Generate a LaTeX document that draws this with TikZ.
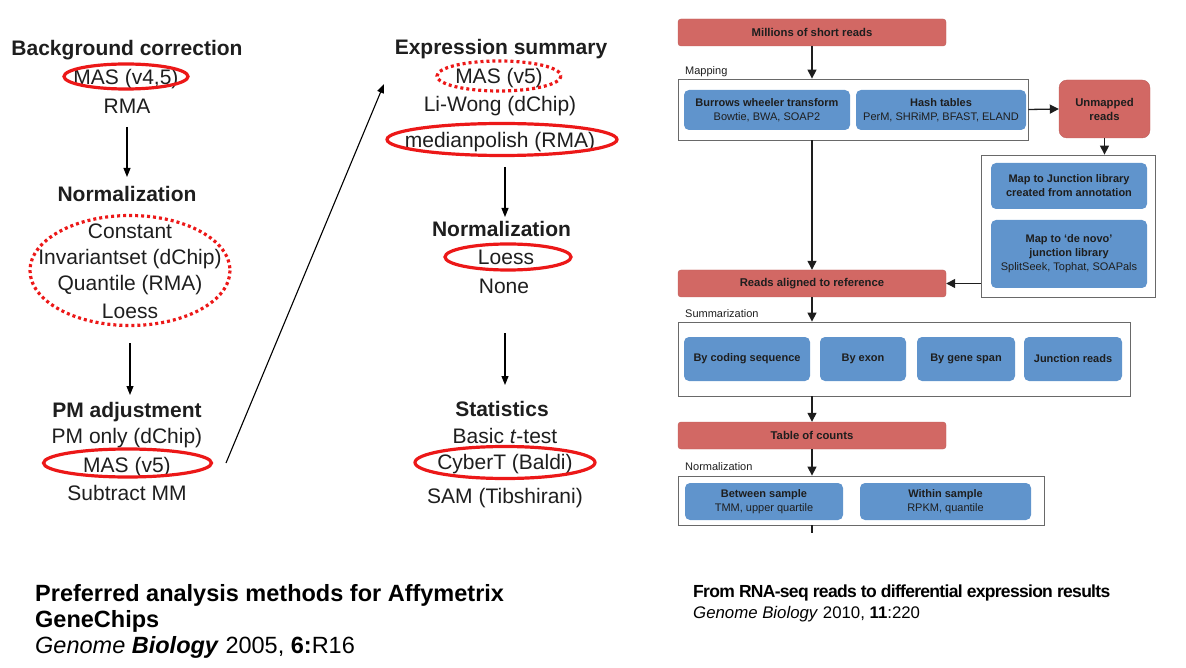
\documentclass[tikz,border=0pt]{standalone}
\usepackage{fontspec}
\setmainfont{Liberation Sans}
\usetikzlibrary{arrows.meta,positioning}
\definecolor{ovalred}{RGB}{236,24,24}
\definecolor{stepred}{RGB}{210,104,100}
\definecolor{toolblue}{RGB}{96,148,204}
\definecolor{framegray}{RGB}{105,105,105}
\definecolor{ink}{RGB}{30,30,30}

\begin{document}
\begin{tikzpicture}[x=1pt,y=-1pt,
  head/.style={anchor=base,inner sep=0pt,text=ink,font=\fontsize{21}{25}\selectfont\bfseries},
  item/.style={anchor=base,inner sep=0pt,text=ink,font=\fontsize{21}{25}\selectfont},
  pick/.style={draw=ovalred,line width=3.2pt},
  maybe/.style={draw=ovalred,line width=3.2pt,dash pattern=on 3pt off 3pt},
  arr/.style={line width=1.1pt,-{Triangle[length=9pt,width=7pt]}},
  redstep/.style={draw=stepred!90!black,fill=stepred,rounded corners=3pt,inner sep=0pt,
    text=ink,font=\fontsize{11.3}{14}\selectfont\bfseries},
  toolbox/.style={fill=toolblue,rounded corners=5pt,inner sep=0pt,align=center,
    text=ink,font=\fontsize{11}{14}\selectfont},
  stage/.style={draw=framegray,line width=0.8pt,inner sep=0pt},
  tag/.style={anchor=base west,inner sep=0pt,text=ink,font=\fontsize{11}{13}\selectfont},
  flow/.style={line width=1.3pt,draw=ink,-{Triangle[length=9pt,width=9pt]}},
  cite/.style={anchor=base west,inner sep=0pt,text=black}]
  \useasboundingbox (0,0) rectangle (1186,668);

  % left column: Affymetrix choices
  \node[head] (bg) at (127,55.5) {Background correction};
  \node[item] (bgmas) at (126,84.5) {MAS (v4,5)};
  \node[item] (bgrma) at (127,113.5) {RMA};
  \node[head] (norm) at (127,201.5) {Normalization};
  \node[item] (nconst) at (130,238.5) {Constant};
  \node[item] (ninv) at (130,264.5) {Invariantset (dChip)};
  \node[item] (nquant) at (130,290.5) {Quantile (RMA)};
  \node[item] (nloess) at (130,318.5) {Loess};
  \node[head] (pm) at (127,417.5) {PM adjustment};
  \node[item] (pmonly) at (127,443.5) {PM only (dChip)};
  \node[item] (pmmas) at (127,472.5) {MAS (v5)};
  \node[item] (pmsub) at (127,500.5) {Subtract MM};

  \draw[pick] (126,76.5) ellipse [x radius=62, y radius=12.5];
  \draw[maybe] (130,270.5) ellipse [x radius=100, y radius=55];
  \draw[pick] (127.5,463) ellipse [x radius=84, y radius=14];

  \coordinate (a1) at (127,127);
  \coordinate (b1) at (127,177);
  \coordinate (a2) at (130,343);
  \coordinate (b2) at (130,395);
  \coordinate (a3) at (226,463);
  \coordinate (b3) at (384,84);
  \draw[arr] (a1) -- (b1);
  \draw[arr] (a2) -- (b2);
  \draw[arr] (a3) -- (b3);

  % middle column
  \node[head] (expr) at (501,54.5) {Expression summary};
  \node[item] (exmas) at (499,83.5) {MAS (v5)};
  \node[item] (exli) at (500,111.5) {Li-Wong (dChip)};
  \node[item] (exmp) at (500,147.5) {medianpolish (RMA)};
  \node[head] (norm2) at (501.5,236.5) {Normalization};
  \node[item] (n2loess) at (506,264.5) {Loess};
  \node[item] (n2none) at (504,293.5) {None};
  \node[head] (stat) at (502,416.5) {Statistics};
  \node[item] (sbasic) at (505,443.5) {Basic \textit{t}-test};
  \node[item] (scyber) at (505,469.5) {CyberT (Baldi)};
  \node[item] (ssam) at (505,503.5) {SAM (Tibshirani)};

  \draw[maybe] (499,76) ellipse [x radius=62, y radius=15];
  \draw[pick] (502,139.5) ellipse [x radius=115, y radius=16];
  \draw[pick] (508,257) ellipse [x radius=63, y radius=13];
  \draw[pick] (505,462.5) ellipse [x radius=90, y radius=16];

  \coordinate (a4) at (505,167);
  \coordinate (b4) at (505,217);
  \coordinate (a5) at (505,333);
  \coordinate (b5) at (505,385);
  \draw[arr] (a4) -- (b4);
  \draw[arr] (a5) -- (b5);

  % right: RNA-seq workflow
  \node[stage, minimum width=350pt, minimum height=61pt] (mapframe) at (853,109.5) {};
  \node[stage, minimum width=174pt, minimum height=142pt] (juncframe) at (1068,226) {};
  \node[stage, minimum width=452pt, minimum height=74pt] (sumframe) at (904,359) {};
  \node[stage, minimum width=366pt, minimum height=49pt] (normframe) at (861,500.5) {};

  \node[redstep, minimum width=268pt, minimum height=27pt] (reads) at (812,32.5) {Millions of short reads};
  \node[redstep, minimum width=91pt, minimum height=58pt, rounded corners=8pt, align=center] (unmapped) at (1104.5,109) {Unmapped\\reads};
  \node[redstep, minimum width=268pt, minimum height=27pt] (aligned) at (812,283.5) {Reads aligned to reference};
  \node[redstep, minimum width=268pt, minimum height=27pt] (counts) at (812,435.5) {Table of counts};

  \node[tag] (tmap) at (685,75) {Mapping};
  \node[tag] (tsum) at (685,318) {Summarization};
  \node[tag] (tnorm) at (685,470) {Normalization};

  \node[toolbox, minimum width=166pt, minimum height=40pt] (bwt) at (767,110) {\textbf{Burrows wheeler transform}\\Bowtie, BWA, SOAP2};
  \node[toolbox, minimum width=170pt, minimum height=40pt] (hash) at (941,110) {\textbf{Hash tables}\\PerM, SHRiMP, BFAST, ELAND};
  \node[toolbox, minimum width=156pt, minimum height=46pt] (junclib) at (1069,186) {\textbf{Map to Junction library}\\\textbf{created from annotation}};
  \node[toolbox, minimum width=156pt, minimum height=68pt] (denovo) at (1069,254) {\textbf{Map to `de novo'}\\\textbf{junction library}\\SplitSeek, Tophat, SOAPals};
  \node[toolbox, minimum width=126pt, minimum height=44pt, font=\fontsize{11}{14}\selectfont\bfseries] (coding) at (747,359) {By coding sequence};
  \node[toolbox, minimum width=86pt, minimum height=44pt, font=\fontsize{11}{14}\selectfont\bfseries] (exon) at (863,359) {By exon};
  \node[toolbox, minimum width=98pt, minimum height=44pt, font=\fontsize{11}{14}\selectfont\bfseries] (gspan) at (966,359) {By gene span};
  \node[toolbox, minimum width=98pt, minimum height=44pt, font=\fontsize{11}{14}\selectfont\bfseries] (jreads) at (1073,359) {Junction reads};
  \node[toolbox, minimum width=158pt, minimum height=37pt] (between) at (764,501.5) {\textbf{Between sample}\\TMM, upper quartile};
  \node[toolbox, minimum width=171pt, minimum height=37pt] (within) at (945.5,501.5) {\textbf{Within sample}\\RPKM, quantile};

  \draw[flow] (reads.south) -- (reads.south |- mapframe.north);
  \draw[flow] (reads.south |- mapframe.south) -- (aligned.north);
  \draw[flow] (mapframe.east) -- (unmapped.west);
  \draw[flow] (unmapped.south) -- (unmapped.south |- juncframe.north);
  \draw[flow] (juncframe.west |- aligned.east) -- (aligned.east);
  \draw[flow] (aligned.south) -- (aligned.south |- sumframe.north);
  \draw[flow] (aligned.south |- sumframe.south) -- (counts.north);
  \draw[flow] (counts.south) -- (counts.south |- normframe.north);
  \coordinate (tail) at (812,533);
  \draw[line width=1.3pt,draw=ink] (counts.south |- normframe.south) -- (tail);

  % sources
  \node[cite, font=\fontsize{23.5}{28}\selectfont\bfseries] (src1) at (35,601.5) {Preferred analysis methods for Affymetrix};
  \node[cite, font=\fontsize{23.5}{28}\selectfont\bfseries] (src1b) at (35,627.5) {GeneChips};
  \node[cite, font=\fontsize{23.5}{28}\selectfont] (src1c) at (35,653) {\textit{Genome \textbf{Biology}} 2005, \textbf{6:}R16};
  \node[cite, font=\fontsize{17.5}{20}\selectfont\bfseries\addfontfeature{LetterSpace=-4}] (src2) at (693,597.5) {From RNA-seq reads to differential expression results};
  \node[cite, font=\fontsize{16.8}{19}\selectfont] (src2b) at (693,618) {\textit{Genome Biology} 2010, \textbf{11}:220};
\end{tikzpicture}
\end{document}
